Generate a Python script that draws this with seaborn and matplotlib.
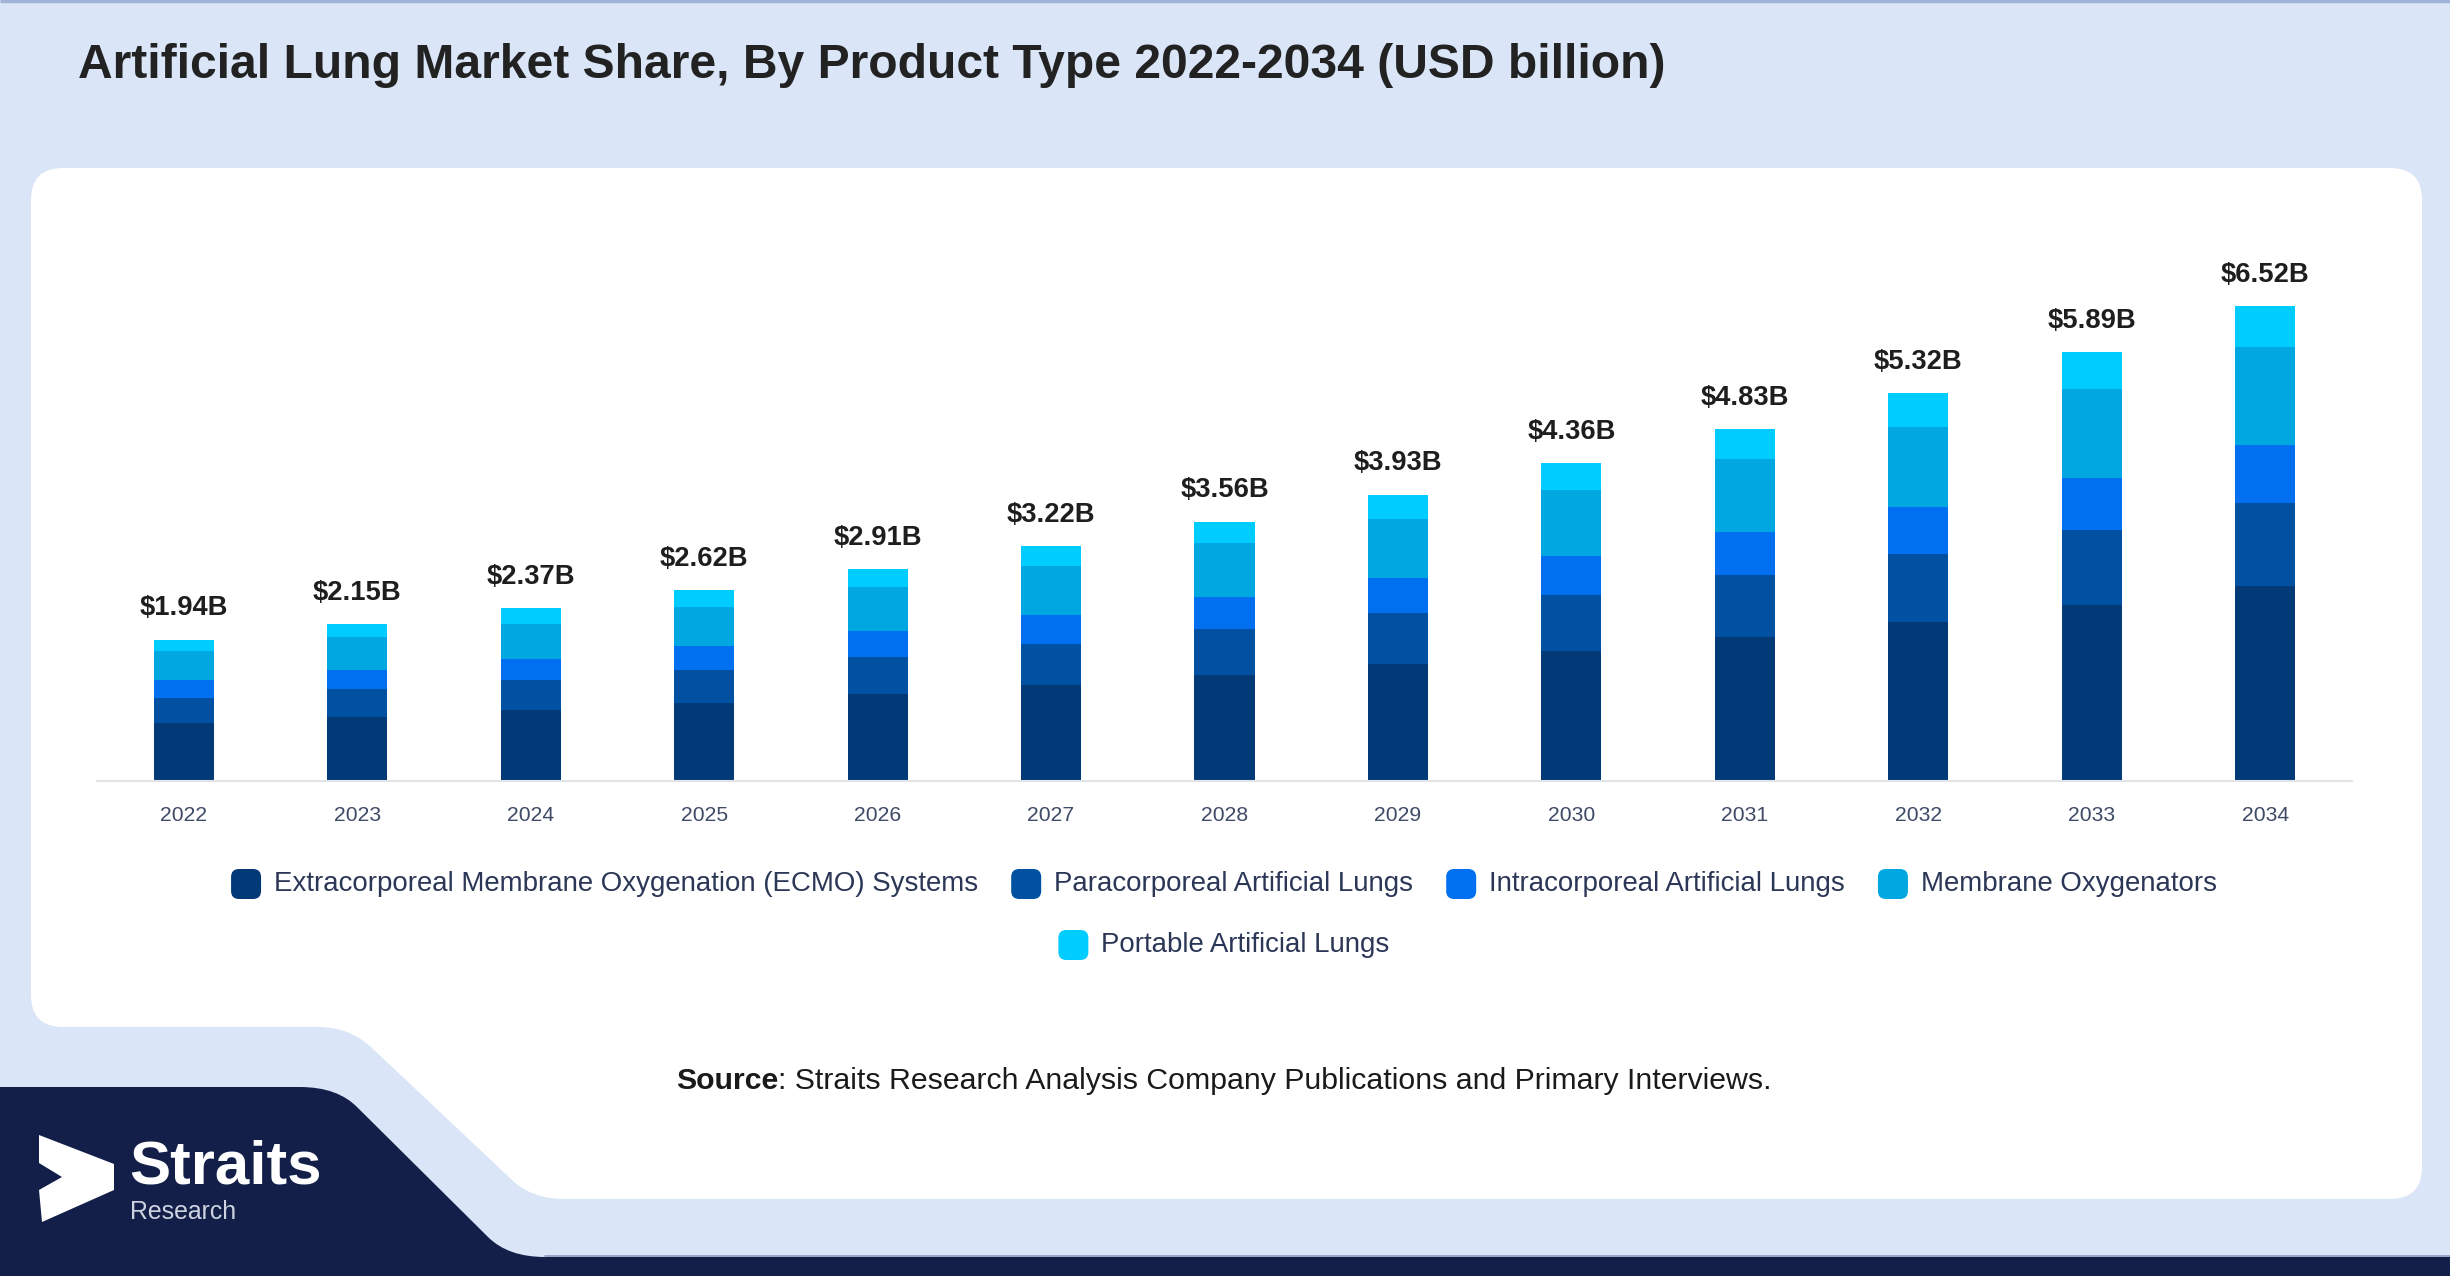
import numpy as np
import pandas as pd
import matplotlib
matplotlib.use("Agg")
import matplotlib.pyplot as plt
import seaborn as sns
from matplotlib.path import Path
from matplotlib.patches import PathPatch, FancyBboxPatch, Polygon

# ---------------- data ----------------
years = ["2022", "2023", "2024", "2025", "2026", "2027", "2028",
         "2029", "2030", "2031", "2032", "2033", "2034"]
totals = [1.94, 2.15, 2.37, 2.62, 2.91, 3.22, 3.56, 3.93, 4.36, 4.83, 5.32, 5.89, 6.52]
ecmo = [0.80, 0.88, 0.97, 1.07, 1.19, 1.32, 1.46, 1.61, 1.79, 1.98, 2.18, 2.41, 2.67]
para = [0.34, 0.38, 0.41, 0.46, 0.51, 0.56, 0.62, 0.69, 0.76, 0.85, 0.93, 1.03, 1.14]
intra = [0.24, 0.26, 0.29, 0.32, 0.36, 0.40, 0.44, 0.48, 0.54, 0.59, 0.65, 0.72, 0.80]
membrane = [0.40, 0.45, 0.49, 0.54, 0.60, 0.67, 0.74, 0.81, 0.90, 1.00, 1.10, 1.22, 1.35]
portable = [0.16, 0.18, 0.21, 0.23, 0.25, 0.27, 0.30, 0.34, 0.37, 0.41, 0.46, 0.51, 0.56]
series_names = ["Extracorporeal Membrane Oxygenation (ECMO) Systems",
                "Paracorporeal Artificial Lungs",
                "Intracorporeal Artificial Lungs",
                "Membrane Oxygenators",
                "Portable Artificial Lungs"]
colors = ["#023A78", "#0051A1", "#0070F0", "#00A7E1", "#00CCFF"]
title = "Artificial Lung Market Share, By Product Type 2022-2034 (USD billion)"
source_bold = "Source"
source_rest = ": Straits Research Analysis Company Publications and Primary Interviews."

# ---------------- setup ----------------
sns.set_theme(style="white")
plt.rcParams['font.family'] = ['Liberation Sans', 'DejaVu Sans']

W, H = 2450, 1276
BG = "#DAE6F8"
NAVY = "#131F48"
fig = plt.figure(figsize=(W / 100, H / 100), dpi=100, facecolor=BG)
renderer = fig.canvas.get_renderer()


def fit(text, target, weight="normal"):
    t = fig.text(0, 0, text, fontsize=20, fontweight=weight)
    w = t.get_window_extent(renderer).width
    t.remove()
    return 20 * target / w


def width_of(text, size, weight="normal"):
    t = fig.text(0, 0, text, fontsize=size, fontweight=weight)
    w = t.get_window_extent(renderer).width
    t.remove()
    return w


bg = fig.add_axes([0, 0, 1, 1])
bg.set_xlim(0, W)
bg.set_ylim(H, 0)
bg.axis("off")
bg.set_zorder(0)

M, L, C3, CL = Path.MOVETO, Path.LINETO, Path.CURVE3, Path.CLOSEPOLY

# top thin line
bg.plot([0, W], [1, 1], color="#9fb3d6", lw=2.5, solid_capstyle="butt")

# white card with cut-out bottom-left
r = 32
cverts = [(31 + r, 168), (2422 - r, 168), (2422, 168), (2422, 168 + r),
          (2422, 1199 - r), (2422, 1199), (2422 - r, 1199),
          (565, 1199), (530, 1199), (510, 1178),
          (372, 1048), (350, 1027), (318, 1027),
          (31 + r, 1027), (31, 1027), (31, 1027 - r),
          (31, 168 + r), (31, 168), (31 + r, 168), (31 + r, 168)]
ccodes = [M, L, C3, C3, L, C3, C3, L, C3, C3, L, C3, C3, L, C3, C3, L, C3, C3, CL]
bg.add_patch(PathPatch(Path(cverts, ccodes), facecolor="white", edgecolor="none"))

# navy footer shape
nverts = [(0, 1087), (300, 1087), (338, 1087), (358, 1108), (488, 1237),
          (508, 1257), (545, 1257), (W, 1257), (W, H), (0, H), (0, 1087)]
ncodes = [M, L, C3, C3, L, C3, C3, L, L, L, CL]
bg.add_patch(PathPatch(Path(nverts, ncodes), facecolor=NAVY, edgecolor="none"))
bg.plot([545, W], [1255.5, 1255.5], color="#8a9bbd", lw=1.2)

# logo
bg.add_patch(Polygon([(39, 1135), (114, 1164), (114, 1190), (42, 1222),
                      (39, 1190), (62, 1177), (39, 1163)],
                     closed=True, facecolor="white", edgecolor="none"))
bg.text(129, 1183, "Straits", fontsize=fit("Straits", 192, "bold"), fontweight="bold",
        color="white", va="baseline", ha="left")
bg.text(130, 1219, "Research", fontsize=fit("Research", 106), color="#cdd3e0",
        va="baseline", ha="left")

# title
bg.text(78, 78, title, fontsize=fit(title, 1586, "bold"), fontweight="bold",
        color="#222222", va="baseline", ha="left")

# source line
ssize = fit(source_bold + source_rest, 1086)
wb = width_of(source_bold, ssize, "bold")
wr = width_of(source_rest, ssize)
x0 = 1224 - (wb + wr) / 2
bg.text(x0, 1081, source_bold, fontsize=ssize, fontweight="bold", color="#1a1a1a", va="center")
bg.text(x0 + wb, 1081, source_rest, fontsize=ssize, color="#1a1a1a", va="center")

# ---------------- chart ----------------
ax = fig.add_axes([97 / W, (H - 781) / H, (2352 - 97) / W, (781 - 198) / H])
ax.set_zorder(2)
ax.patch.set_alpha(0)

layers = np.array([ecmo, para, intra, membrane, portable])
cum = np.cumsum(layers, axis=0)
for k in range(4, -1, -1):
    df = pd.DataFrame({"year": years, "value": cum[k]})
    sns.barplot(data=df, x="year", y="value", order=years, color=colors[k],
                saturation=1, width=0.346, linewidth=0, ax=ax)

ax.set_xlim(-0.5, 12.5)
ax.set_ylim(0, 8)
ax.set_yticks([])
ax.set_xlabel("")
ax.set_ylabel("")
for s in ["left", "top", "right"]:
    ax.spines[s].set_visible(False)
ax.spines["bottom"].set_color("#e2e4e8")
ax.spines["bottom"].set_linewidth(1.5)
ax.tick_params(axis="x", length=0, pad=18, labelsize=fit("2022", 47),
               labelcolor="#3e4a66")

tsize = fit("$1.94B", 88, "bold")
for i, t in enumerate(totals):
    ax.annotate(f"${t:.2f}B", (i, t), xytext=(0, 22.5), textcoords="offset points",
                ha="center", va="center", fontsize=tsize, fontweight="bold",
                color="#1e1e1e")

# ---------------- legend ----------------
lsize = fit(series_names[0], 703)
msz, mgap, igap = 30, 13, 33
rows = [[0, 1, 2, 3], [4]]
rows_y = [884, 945]
for row, yy in zip(rows, rows_y):
    widths = [width_of(series_names[k], lsize) for k in row]
    total_w = sum(msz + mgap + w for w in widths) + igap * (len(row) - 1)
    x = 1224 - total_w / 2
    for k, w in zip(row, widths):
        bg.add_patch(FancyBboxPatch((x, yy - msz / 2), msz, msz,
                                    boxstyle="round,pad=0,rounding_size=8",
                                    facecolor=colors[k], edgecolor="none"))
        bg.text(x + msz + mgap, yy, series_names[k], fontsize=lsize,
                color="#2c3757", va="center", ha="left")
        x += msz + mgap + w + igap

fig.savefig("out.png", dpi=100, facecolor=BG)
